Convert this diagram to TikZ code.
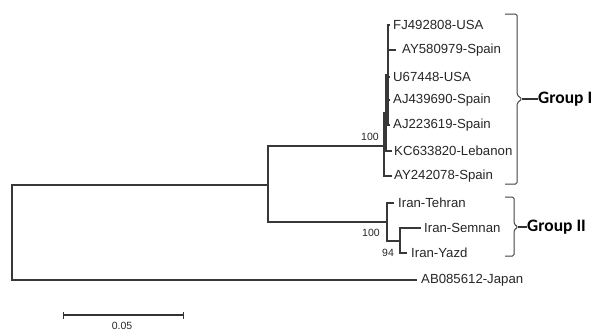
\documentclass[tikz,border=0pt]{standalone}
\usepackage{fontspec}
\setmainfont{Liberation Sans}
\newfontfamily\grpfont{Carlito}
\begin{document}
\begin{tikzpicture}[x=1pt,y=-1pt,
  br/.style={draw=black!78,line width=1.1pt},
  leaf/.style={anchor=west,inner sep=0pt,font=\fontsize{13.2}{15}\selectfont,text=black!85},
  boot/.style={inner sep=0pt,font=\fontsize{10.5}{12}\selectfont,text=black!85},
  brk/.style={draw=black!75,line width=1pt,rounded corners=1.5pt},
  grp/.style={anchor=west,inner sep=0pt,font=\grpfont\bfseries\fontsize{17.5}{19}\selectfont},
]
\useasboundingbox (0,0) rectangle (598,333);
% internal nodes
\coordinate (root) at (12,232.5);
\coordinate (nA) at (268,185);
\coordinate (nG1) at (384,146);
\coordinate (nG1b) at (386,113);
\coordinate (nG1c) at (388,75);
\coordinate (nG2) at (387,222);
\coordinate (nG2b) at (400,241);
% leaf tips
\coordinate (tFJ) at (390,25);
\coordinate (tAY58) at (396,50);
\coordinate (tU67) at (390,77);
\coordinate (tAJ43) at (390,100);
\coordinate (tAJ22) at (390,125);
\coordinate (tKC) at (392,151);
\coordinate (tAY24) at (392,176);
\coordinate (tTeh) at (394,203);
\coordinate (tSem) at (421,228);
\coordinate (tYaz) at (407,253);
\coordinate (tJap) at (417,280);
% branches
\draw[br] (root) |- (nA);
\draw[br] (root) |- (tJap);
\draw[br] (nA) |- (nG1);
\draw[br] (nA) |- (nG2);
\draw[br] (nG1) |- (nG1b);
\draw[br] (nG1) |- (tAY24);
\draw[br] (nG1b) |- (nG1c);
\draw[br] (nG1b) |- (tKC);
\draw[br] (nG1c) |- (tFJ);
\draw[br] (nG1c) |- (tAY58);
\draw[br] (nG1c) |- (tU67);
\draw[br] (nG1c) |- (tAJ43);
\draw[br] (nG1c) |- (tAJ22);
\coordinate (thA) at (388,63);
\coordinate (thB) at (388,125);
\draw[draw=black!78,line width=2.6pt] (thA) -- (thB);
\draw[br] (nG2) |- (tTeh);
\draw[br] (nG2) |- (nG2b);
\draw[br] (nG2b) |- (tSem);
\draw[br] (nG2b) |- (tYaz);
% leaf labels
\node[leaf] (lFJ) at ([xshift=3pt]tFJ) {FJ492808-USA};
\node[leaf] (lAY58) at ([xshift=6pt]tAY58) {AY580979-Spain};
\node[leaf] (lU67) at ([xshift=3pt]tU67) {U67448-USA};
\node[leaf] (lAJ43) at ([xshift=3pt]tAJ43) {AJ439690-Spain};
\node[leaf] (lAJ22) at ([xshift=3pt]tAJ22) {AJ223619-Spain};
\node[leaf] (lKC) at ([xshift=2pt]tKC) {KC633820-Lebanon};
\node[leaf] (lAY24) at ([xshift=2pt]tAY24) {AY242078-Spain};
\node[leaf] (lTeh) at ([xshift=4pt]tTeh) {Iran-Tehran};
\node[leaf] (lSem) at ([xshift=3pt]tSem) {Iran-Semnan};
\node[leaf] (lYaz) at ([xshift=4pt]tYaz) {Iran-Yazd};
\node[leaf] (lJap) at ([xshift=4pt]tJap) {AB085612-Japan};
% bootstrap values
\node[boot] (b1) at (370,137) {100};
\node[boot] (b2) at (371,233) {100};
\node[boot] (b3) at (388,253) {94};
% group brackets
\coordinate (g1a) at (505,14);
\coordinate (g1p) at (522,99);
\coordinate (g1b) at (505,184);
\draw[brk] (g1a) -- (517,14) -- (517,95) -- (g1p) -- (517,103) -- (517,184) -- (g1b);
\node[grp] (G1) at (538,99) {Group I};
\draw[draw=black!80,line width=1.1pt] (g1p) -- (G1.west);
\coordinate (g2a) at (505,197);
\coordinate (g2p) at (518,227);
\coordinate (g2b) at (505,256);
\draw[brk] (g2a) -- (514,197) -- (514,224) -- (g2p) -- (514,230) -- (514,256) -- (g2b);
\node[grp] (G2) at (527,227) {Group II};
\draw[draw=black!80,line width=1.1pt] (g2p) -- (G2.west);
% scale bar
\coordinate (s1) at (63,315);
\coordinate (s2) at (183,315);
\draw[draw=black!80,line width=1.1pt] (s1) -- (s2);
\draw[draw=black!80,line width=1pt] ([yshift=-3.5pt]s1) -- ([yshift=3.5pt]s1);
\draw[draw=black!80,line width=1pt] ([yshift=-3.5pt]s2) -- ([yshift=3.5pt]s2);
\node[boot] (sl) at (122,326) {0.05};
\end{tikzpicture}
\end{document}
